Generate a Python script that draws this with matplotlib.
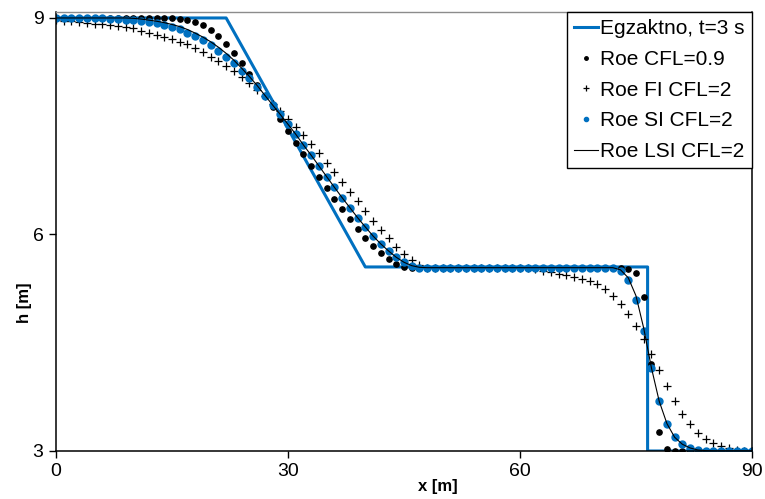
import numpy as np
import matplotlib.pyplot as plt

plt.rcParams['font.family'] = ['Liberation Sans', 'DejaVu Sans']

# tocna rjesenja, t = 3 s
x_egz = [0, 22, 40, 76.5, 76.5, 90]
h_egz = [9, 9, 5.55, 5.55, 3, 3]

# cvorovi mreze, dx = 1 m
x_m = np.arange(0, 91, 1)

h_roe = [9.0] * 16 + [
    8.99, 8.97, 8.945, 8.90, 8.84, 8.75, 8.635, 8.51, 8.37, 8.22,
    8.07, 7.92, 7.76, 7.60, 7.435, 7.27, 7.115, 6.955, 6.80, 6.645,
    6.495, 6.355, 6.215, 6.08, 5.955, 5.845, 5.74, 5.655, 5.595, 5.555,
] + [5.54] * 28 + [5.525, 5.47, 5.14, 4.2, 3.26, 3.03] + [3.0] * 11

h_fi = [
    8.965, 8.963, 8.954, 8.94, 8.926, 8.917, 8.912, 8.903, 8.889, 8.87,
    8.855, 8.826, 8.797, 8.77, 8.741, 8.704, 8.667, 8.637, 8.58, 8.527,
    8.466, 8.40, 8.335, 8.266, 8.183, 8.095, 8.002, 7.919, 7.804, 7.715,
    7.60, 7.494, 7.374, 7.25, 7.125, 6.995, 6.862, 6.732, 6.593, 6.464,
    6.326, 6.191, 6.063, 5.947, 5.831, 5.725, 5.642, 5.573,
] + [5.54] * 13 + [
    5.53, 5.52, 5.50, 5.48, 5.455, 5.44, 5.415, 5.39, 5.36, 5.31,
    5.24, 5.148, 5.037, 4.894, 4.732, 4.548, 4.34, 4.123, 3.90, 3.693,
    3.508, 3.37, 3.254, 3.166, 3.107, 3.07, 3.037, 3.014, 3.003, 3.0,
]

h_si = [9.0] * 7 + [
    8.99, 8.986, 8.977, 8.97, 8.958, 8.94, 8.926, 8.905, 8.878, 8.843,
    8.788, 8.745, 8.69, 8.626, 8.547, 8.464, 8.372, 8.266, 8.162, 8.045,
    7.919, 7.795, 7.663, 7.527, 7.389, 7.24, 7.097, 6.95, 6.801, 6.654,
    6.51, 6.372, 6.233, 6.104, 5.979, 5.869, 5.772, 5.684, 5.615, 5.568,
] + [5.54] * 26 + [
    5.50, 5.37, 5.093, 4.66, 4.146, 3.697, 3.38, 3.19, 3.093, 3.042,
    3.014, 3.005,
] + [3.0] * 6

h_lsi = [9.0] * 10 + [
    8.995, 8.985, 8.97, 8.955, 8.935, 8.91, 8.88, 8.84, 8.79, 8.735,
    8.67, 8.595, 8.51, 8.415, 8.305, 8.19, 8.065, 7.93, 7.795, 7.663,
    7.527, 7.389, 7.24, 7.097, 6.95, 6.801, 6.654, 6.51, 6.372, 6.233,
    6.104, 5.979, 5.869, 5.772, 5.684, 5.615, 5.568, 5.545,
] + [5.54] * 25 + [
    5.51, 5.40, 5.15, 4.70, 4.15, 3.69, 3.38, 3.19, 3.093, 3.042,
    3.014, 3.005,
] + [3.0] * 6

plava = '#0070C0'

fig = plt.figure(figsize=(7.65, 4.99), dpi=100)
ax = fig.add_axes([0.0732, 0.0962, 0.9098, 0.8798])

ax.plot(x_egz, h_egz, color=plava, lw=2.2, label='Egzaktno, t=3 s')
ax.plot(x_m, h_roe, ls='none', marker='o', ms=3.8, color='black',
        label='Roe CFL=0.9')
ax.plot(x_m, h_fi, ls='none', marker='+', ms=6, mew=0.9, color='black',
        label='Roe FI CFL=2')
ax.plot(x_m, h_si, ls='none', marker='o', ms=5, color=plava,
        label='Roe SI CFL=2')
ax.plot(x_m, h_lsi, color='black', lw=0.8, label='Roe LSI CFL=2')

ax.set_xlim(0, 90)
ax.set_ylim(3, 9.083)
ax.set_xticks([0, 30, 60, 90])
ax.set_yticks([3, 6, 9])
ax.tick_params(direction='out', length=5, width=1, labelsize=14, pad=4)

for s in ['left', 'bottom', 'right']:
    ax.spines[s].set_linewidth(1.1)
ax.spines['top'].set_color('#8c8c8c')
ax.spines['top'].set_linewidth(1.0)

ax.set_xlabel('x [m]', fontsize=12, fontweight='bold')
ax.set_ylabel('h [m]', fontsize=12, fontweight='bold')
ax.xaxis.set_label_coords(0.548, -0.064)
ax.yaxis.set_label_coords(-0.034, 0.337)

leg = ax.legend(loc='upper right', bbox_to_anchor=(1.0, 1.0),
                borderaxespad=0, fancybox=False, framealpha=1,
                edgecolor='black', fontsize=15, handlelength=1.15,
                handletextpad=0.1, labelspacing=0.56, borderpad=0.35)
leg.get_frame().set_linewidth(1.0)
for h, ms in zip(leg.legend_handles[1:4], [2.5, 4, 3]):
    h.set_markersize(ms)

plt.savefig('out.png', dpi=100)
